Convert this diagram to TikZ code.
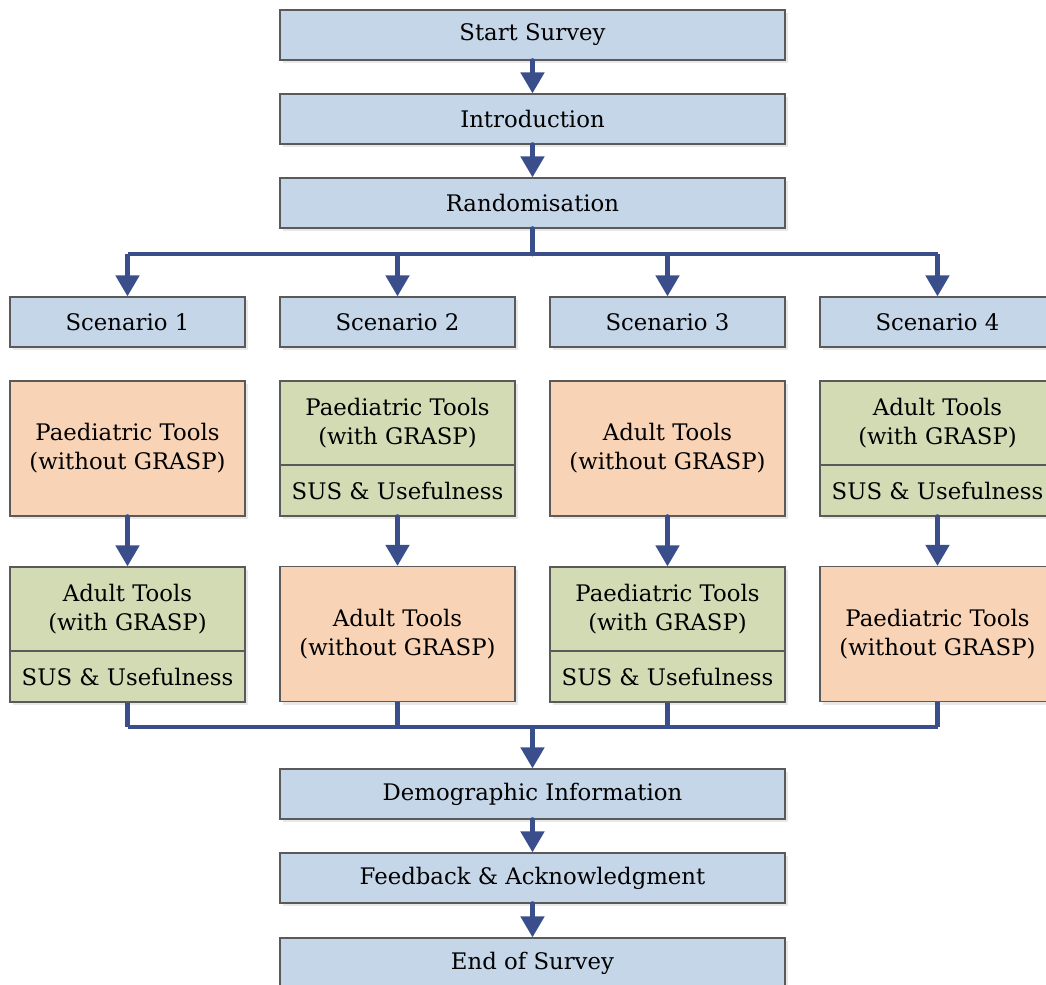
\documentclass[tikz,border=0pt]{standalone}
\usepackage{fontspec}
\setmainfont{DejaVu Serif}
\usetikzlibrary{shadows,arrows.meta}
\definecolor{boxblue}{HTML}{C5D6E8}
\definecolor{boxorange}{HTML}{F8D3B6}
\definecolor{boxgreen}{HTML}{D3DBB5}
\definecolor{boxgrey}{HTML}{5A5A5A}
\definecolor{flowblue}{HTML}{3A4E8C}
\tikzset{
  base/.style={draw=boxgrey, line width=0.6pt, inner sep=0pt, align=center,
    font=\fontsize{11.4}{14.5}\selectfont,
    drop shadow={shadow xshift=1.5pt, shadow yshift=-1.5pt, fill=black!18}},
  wide/.style={base, fill=boxblue, minimum width=252.5pt, minimum height=25pt},
  scen/.style={base, fill=boxblue, minimum width=117.5pt, minimum height=25pt},
  plain/.style={base, fill=boxorange, minimum width=117.5pt, minimum height=67.5pt},
  head/.style={base, fill=boxgreen, minimum width=117.5pt, minimum height=42pt},
  foot/.style={base, fill=boxgreen, minimum width=117.5pt, minimum height=25.5pt},
  bus/.style={draw=flowblue, line width=2.4pt},
  flow/.style={bus, line cap=round, -{Triangle[width=11.5pt,length=10.5pt]}},
}
\begin{document}
\begin{tikzpicture}[x=0.5pt, y=-0.5pt]
  \useasboundingbox (0,0) rectangle (1046,985);
  % main column, top
  \node[wide] (start) at (532.5,35) {Start Survey};
  \node[wide] (intro) at (532.5,119) {Introduction};
  \node[wide] (rand) at (532.5,203) {Randomisation};
  % scenarios
  \node[scen] (scen1) at (127.5,322) {Scenario 1};
  \node[scen] (scen2) at (397.5,322) {Scenario 2};
  \node[scen] (scen3) at (667.5,322) {Scenario 3};
  \node[scen] (scen4) at (937.5,322) {Scenario 4};
  % first block of tools
  \node[plain] (first1) at (127.5,448.5) {Paediatric Tools\\(without GRASP)};
  \node[head] (first2) at (397.5,423) {Paediatric Tools\\(with GRASP)};
  \node[foot] (sus2) at (397.5,490.5) {SUS \& Usefulness};
  \node[plain] (first3) at (667.5,448.5) {Adult Tools\\(without GRASP)};
  \node[head] (first4) at (937.5,423) {Adult Tools\\(with GRASP)};
  \node[foot] (sus4) at (937.5,490.5) {SUS \& Usefulness};
  % second block of tools
  \node[head] (second1) at (127.5,609) {Adult Tools\\(with GRASP)};
  \node[foot] (susb1) at (127.5,676.5) {SUS \& Usefulness};
  \node[plain] (second2) at (397.5,634) {Adult Tools\\(without GRASP)};
  \node[head] (second3) at (667.5,609) {Paediatric Tools\\(with GRASP)};
  \node[foot] (susb3) at (667.5,676.5) {SUS \& Usefulness};
  \node[plain] (second4) at (937.5,634) {Paediatric Tools\\(without GRASP)};
  % main column, bottom
  \node[wide] (demo) at (532.5,794) {Demographic Information};
  \node[wide] (feed) at (532.5,878) {Feedback \& Acknowledgment};
  \node[wide] (stop) at (532.5,963) {End of Survey};
  % connectors
  \coordinate (split) at (532.5,254);
  \coordinate (merge) at (532.5,727);
  \draw[flow] (start) -- (intro);
  \draw[flow] (intro) -- (rand);
  \draw[bus, line cap=round] (rand.south) -- (split);
  \draw[bus] (scen1 |- split) -- (scen4 |- split);
  \foreach \i in {1,...,4}
    \draw[flow, line cap=butt] (scen\i |- split) -- (scen\i);
  \draw[flow] (first1) -- (second1);
  \draw[flow] (sus2) -- (second2);
  \draw[flow] (first3) -- (second3);
  \draw[flow] (sus4) -- (second4);
  \draw[bus] (susb1.south) -- (susb1 |- merge);
  \draw[bus] (second2.south) -- (second2 |- merge);
  \draw[bus] (susb3.south) -- (susb3 |- merge);
  \draw[bus] (second4.south) -- (second4 |- merge);
  \draw[bus] (susb1 |- merge) -- (second4 |- merge);
  \draw[flow, line cap=butt] (merge) -- (demo);
  \draw[flow] (demo) -- (feed);
  \draw[flow] (feed) -- (stop);
\end{tikzpicture}
\end{document}
